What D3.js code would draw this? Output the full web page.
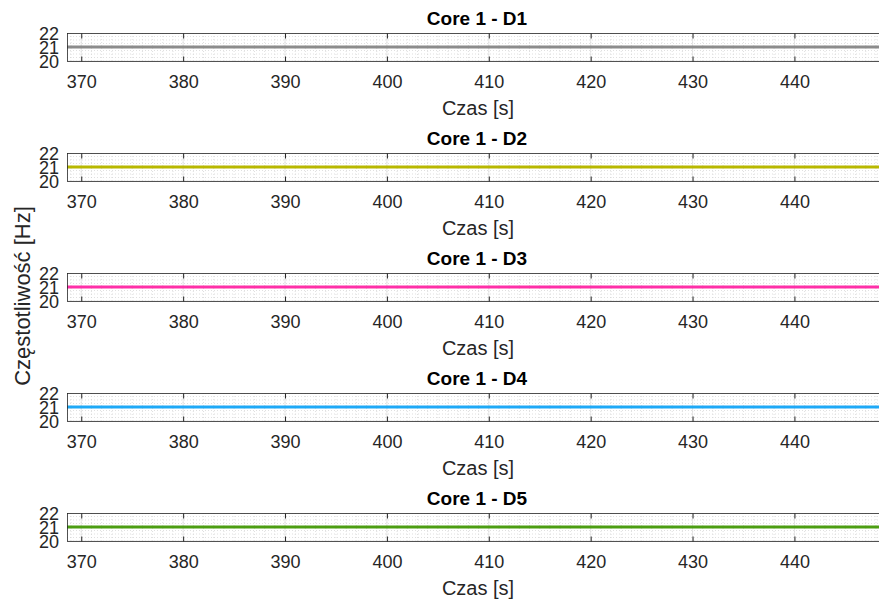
<!DOCTYPE html>
<html><head><meta charset="utf-8">
<script src="https://cdn.jsdelivr.net/npm/d3@7"></script>
<style>body{margin:0;background:#fff}svg{display:block}text{font-family:"Liberation Sans",Arial,Helvetica,sans-serif}</style>
</head><body>
<svg id="c" width="879" height="602"></svg>
<script>
const titles = ["Core 1 - D1","Core 1 - D2","Core 1 - D3","Core 1 - D4","Core 1 - D5"];
const colors = ["#8c8c8c","#b8b800","#ff2fa8","#1ea9f7","#4c9e12"];
const time = [368,370,380,390,400,410,420,430,440,449];
const freqD1 = [21,21,21,21,21,21,21,21,21,21];
const freqD2 = [21,21,21,21,21,21,21,21,21,21];
const freqD3 = [21,21,21,21,21,21,21,21,21,21];
const freqD4 = [21,21,21,21,21,21,21,21,21,21];
const freqD5 = [21,21,21,21,21,21,21,21,21,21];
const series = [freqD1,freqD2,freqD3,freqD4,freqD5];
const xTicks = [370,380,390,400,410,420,430,440];
const yTicks = [20,21,22];
const xLabel = "Czas [s]";
const yLabel = "Częstotliwość [Hz]";

const svg = d3.select("#c");
const left = 67, right = 879;
const x = d3.scaleLinear().domain([368.6, 448.3]).range([left, right]);
const tops = [33,153,273,393,513];
const ph = 28;
const minorX = d3.range(369, 449, 1);
const minorY = d3.range(20, 22.01, 0.25);

tops.forEach((top, i) => {
  const g = svg.append("g");
  const y = d3.scaleLinear().domain([20,22]).range([top+ph, top]);
  const clipId = "clip"+i;
  svg.append("clipPath").attr("id", clipId).append("rect").attr("x", left).attr("y", top).attr("width", right-left).attr("height", ph);
  const grid = g.append("g").attr("clip-path", `url(#${clipId})`);
  grid.selectAll(".mx").data(minorX).join("line")
    .attr("x1", d=>x(d)).attr("x2", d=>x(d)).attr("y1", top).attr("y2", top+ph)
    .attr("stroke", "#d2d2d2").attr("stroke-width", 0.7).attr("stroke-dasharray", "1,2");
  grid.selectAll(".my").data(minorY).join("line")
    .attr("x1", left).attr("x2", right).attr("y1", d=>y(d)).attr("y2", d=>y(d))
    .attr("stroke", "#d2d2d2").attr("stroke-width", 0.7).attr("stroke-dasharray", "1,2");
  grid.selectAll(".Mx").data(xTicks).join("line")
    .attr("x1", d=>x(d)).attr("x2", d=>x(d)).attr("y1", top).attr("y2", top+ph)
    .attr("stroke", "#e0e0e0").attr("stroke-width", 0.8);
  grid.selectAll(".My").data(yTicks).join("line")
    .attr("x1", left).attr("x2", right).attr("y1", d=>y(d)).attr("y2", d=>y(d))
    .attr("stroke", "#e0e0e0").attr("stroke-width", 0.8);

  const line = d3.line().x((d,j)=>x(time[j])).y(d=>y(d));
  grid.append("path").datum(series[i]).attr("d", line)
    .attr("fill","none").attr("stroke", colors[i]).attr("stroke-width", 3);

  g.append("line").attr("x1",left).attr("x2",right).attr("y1",top+0.5).attr("y2",top+0.5).attr("stroke","#262626").attr("stroke-width",0.8);
  g.append("line").attr("x1",left).attr("x2",right).attr("y1",top+ph+0.5).attr("y2",top+ph+0.5).attr("stroke","#262626").attr("stroke-width",0.8);
  g.append("line").attr("x1",left+0.5).attr("x2",left+0.5).attr("y1",top).attr("y2",top+ph).attr("stroke","#262626").attr("stroke-width",0.8);

  const xa = d3.axisBottom(x).tickValues(xTicks).tickSizeInner(-5).tickSizeOuter(0).tickPadding(14);
  const gx = g.append("g").attr("transform", `translate(0,${top+ph+0.5})`).call(xa);
  gx.select(".domain").remove();
  gx.selectAll("line").attr("stroke","#262626");
  gx.selectAll("text").attr("font-size", 18).attr("fill","#262626");
  const xt = d3.axisTop(x).tickValues(xTicks).tickSizeInner(-5).tickSizeOuter(0).tickFormat("");
  const gxt = g.append("g").attr("transform", `translate(0,${top+0.5})`).call(xt);
  gxt.select(".domain").remove();
  gxt.selectAll("line").attr("stroke","#262626");

  const ya = d3.axisLeft(y).tickValues(yTicks).tickFormat(d3.format("d")).tickSize(0).tickPadding(8);
  const gy = g.append("g").attr("transform", `translate(${left},0)`).call(ya);
  gy.select(".domain").remove();
  gy.selectAll("text").attr("font-size", 18).attr("fill","#262626").attr("dy","0.36em");

  g.append("text").attr("x", 477).attr("y", top-8).attr("text-anchor","middle")
    .attr("font-size", 19).attr("font-weight","bold").attr("fill","#000").text(titles[i]);
  g.append("text").attr("x", 478).attr("y", top+ph+54).attr("text-anchor","middle")
    .attr("font-size", 20).attr("fill","#262626").text(xLabel);
});

svg.append("text").attr("transform","translate(30,296) rotate(-90)").attr("text-anchor","middle")
  .attr("font-size", 22).attr("fill","#262626").text(yLabel);
</script>
</body></html>
